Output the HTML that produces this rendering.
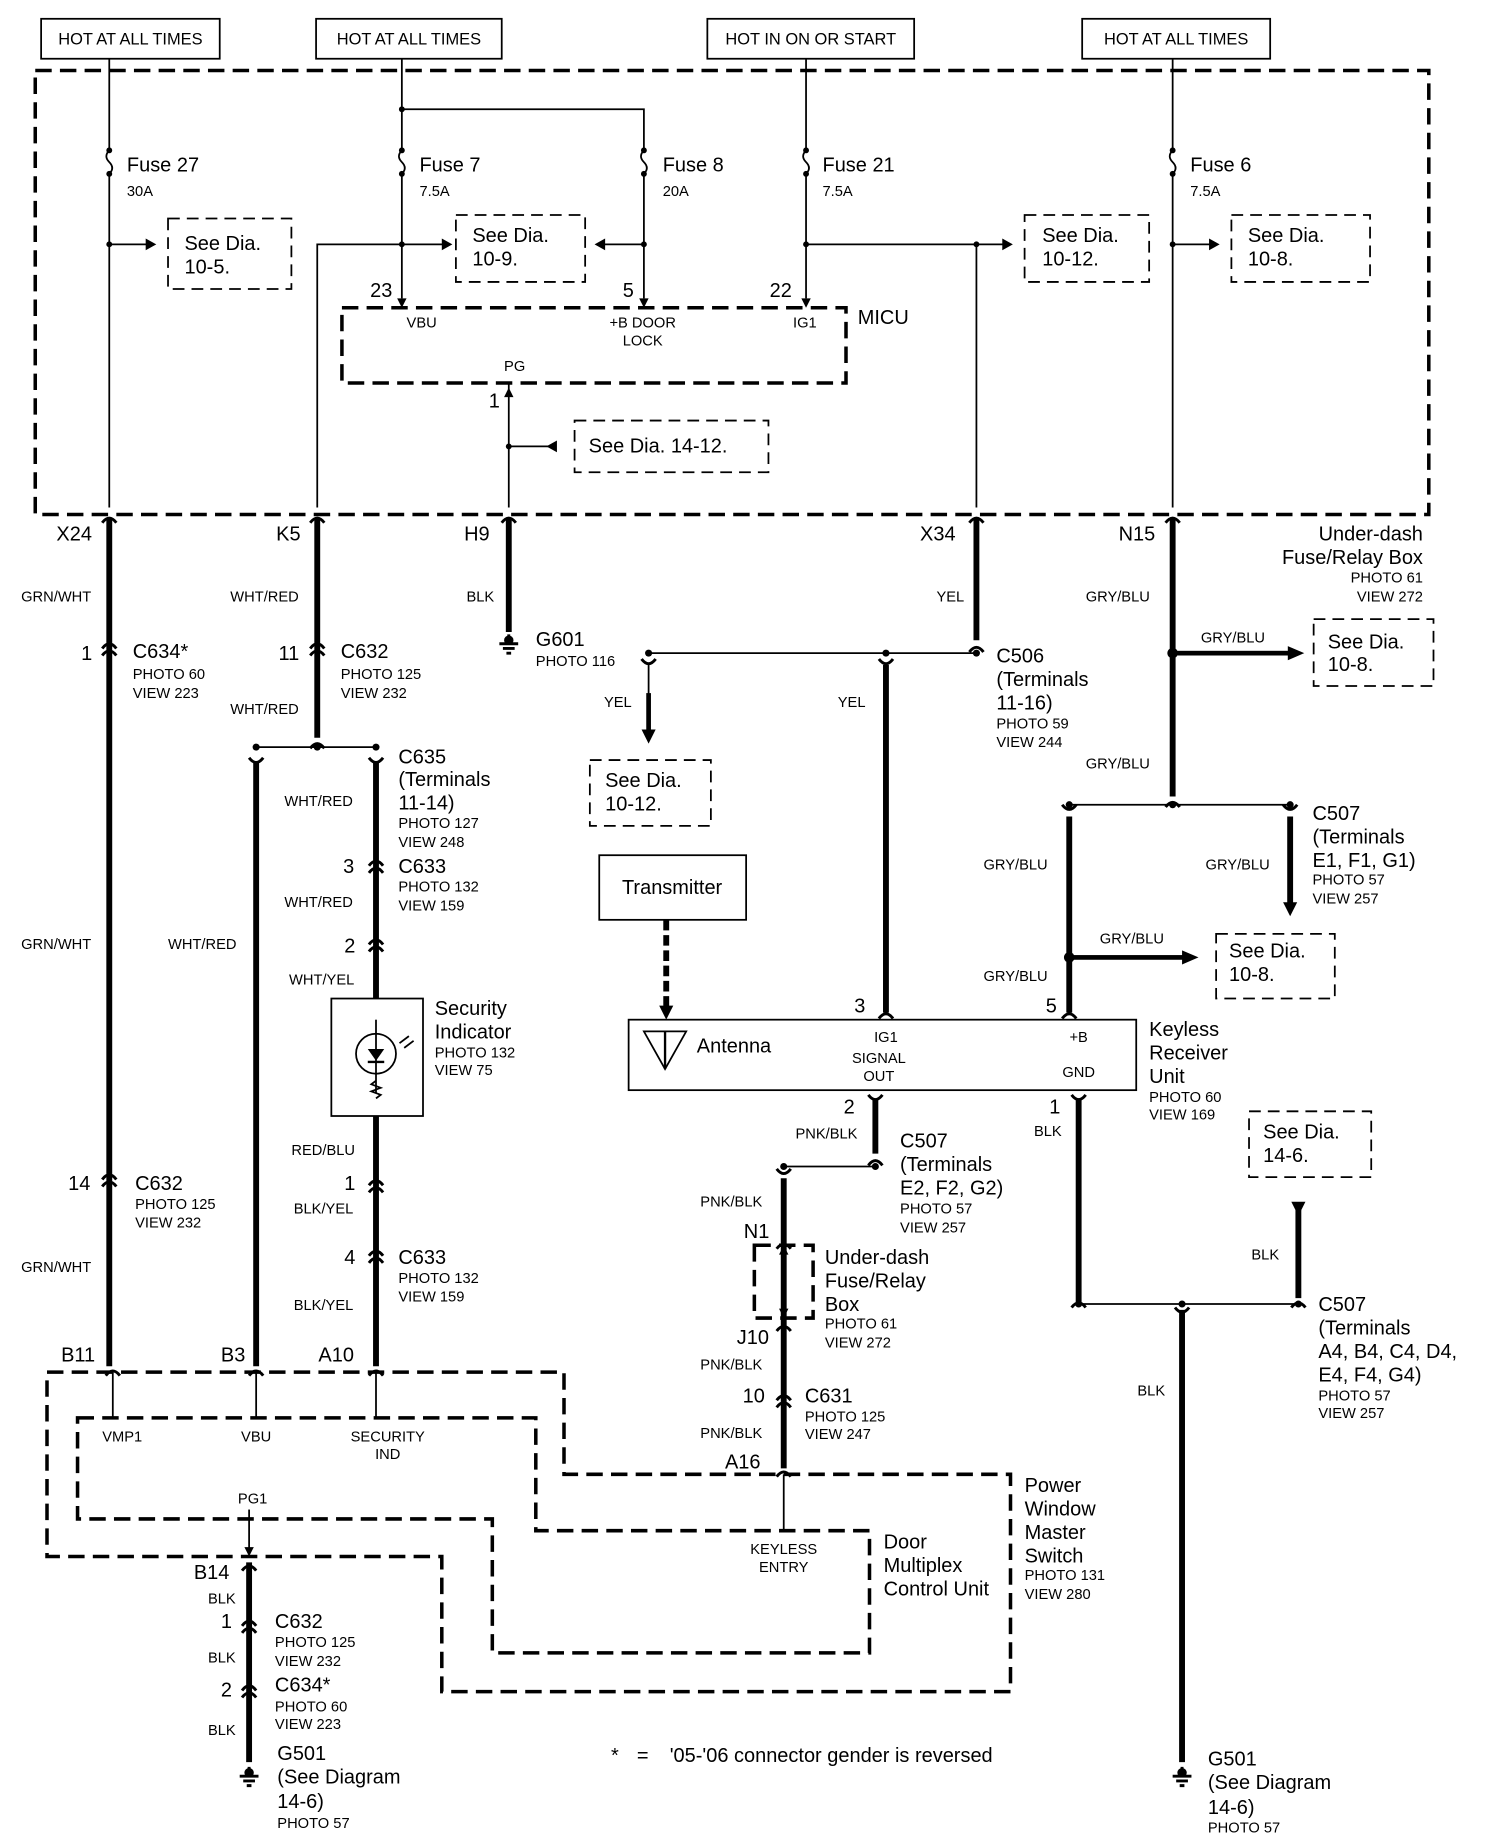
<!DOCTYPE html>
<html><head><meta charset="utf-8"><style>
html,body{margin:0;padding:0;background:#fff}
svg{display:block}
text{font-family:"Liberation Sans",Arial,sans-serif;fill:#000}
.L{font-size:17px}.S{font-size:12.5px}.M{font-size:14px}
.thin{stroke:#000;stroke-width:1.5;fill:none}
.thk{stroke:#000;stroke-width:5;fill:none}
.dash{stroke:#000;stroke-width:3;fill:none;stroke-dasharray:14 7}
.dbox{stroke:#000;stroke-width:1.5;fill:none;stroke-dasharray:10 6}
</style></head><body>
<svg width="1504" height="1842" viewBox="0 0 1280 1568" preserveAspectRatio="none" xmlns="http://www.w3.org/2000/svg">
<defs>
<g id="c"><path d="M-6,5 Q0,-3 6,5 M-6,-1 Q0,-9 6,-1" stroke="#000" stroke-width="2.5" fill="none"/></g>
<g id="cd"><path d="M-6,-5 Q0,3 6,-5" stroke="#000" stroke-width="2.5" fill="none"/></g>
<g id="cu"><path d="M-6,5 Q0,-3 6,5" stroke="#000" stroke-width="2.5" fill="none"/></g>
<g id="gnd"><path d="M0,-8 V0 M-8,0 H8 M-5,4 H5 M-2,8 H2" stroke="#000" stroke-width="2.5"/><circle cx="0" cy="-3" r="4"/></g>
<g id="fuse"><circle cx="0" cy="0" r="2.5"/><path d="M0,0 q-5,5 0,10 q5,5 0,10" stroke="#000" stroke-width="1.5" fill="none"/><circle cx="0" cy="20" r="2.5"/></g>
</defs>

<g class="thin" stroke-width="2">
<rect x="35" y="16" width="152" height="34"/><rect x="269" y="16" width="158" height="34"/>
<rect x="602" y="16" width="176" height="34"/><rect x="921" y="16" width="160" height="34"/>
</g>
<text x="111" y="38" class="M" text-anchor="middle">HOT AT ALL TIMES</text>
<text x="348" y="38" class="M" text-anchor="middle">HOT AT ALL TIMES</text>
<text x="690" y="38" class="M" text-anchor="middle">HOT IN ON OR START</text>
<text x="1001" y="38" class="M" text-anchor="middle">HOT AT ALL TIMES</text>

<rect x="30" y="60" width="1186" height="378" class="dash"/>

<g class="thin">
<path d="M93,50 V128 M93,148 V432"/>
<path d="M342,50 V128 M342,148 V254 M342,93 H548 V128 M548,148 V254"/>
<path d="M686,50 V128 M686,148 V254"/>
<path d="M998,50 V128 M998,148 V432"/>
<path d="M93,208 H128"/><path d="M342,208 H270 V432"/><path d="M342,208 H380"/><path d="M548,208 H512"/>
<path d="M686,208 H855"/><path d="M831,208 V432"/><path d="M998,208 H1033"/>
<path d="M433,326 V432"/><path d="M433,380 H470"/>
</g>
<use href="#fuse" x="93" y="128"/><use href="#fuse" x="342" y="128"/><use href="#fuse" x="548" y="128"/><use href="#fuse" x="686" y="128"/><use href="#fuse" x="998" y="128"/>
<g fill="#000">
<circle cx="93" cy="208" r="2.5"/><circle cx="342" cy="208" r="2.5"/><circle cx="342" cy="93" r="2.5"/><circle cx="548" cy="208" r="2.5"/><circle cx="686" cy="208" r="2.5"/><circle cx="831" cy="208" r="2.5"/><circle cx="998" cy="208" r="2.5"/><circle cx="433" cy="380" r="2.5"/>
<path d="M133,208 l-9,-5 v10z"/><path d="M385,208 l-9,-5 v10z"/><path d="M506,208 l9,-5 v10z"/><path d="M862,208 l-9,-5 v10z"/><path d="M1038,208 l-9,-5 v10z"/><path d="M465,380 l9,-5 v10z"/>
<path d="M342,262 l-4,-8 h8z"/><path d="M548,262 l-4,-8 h8z"/><path d="M686,262 l-4,-8 h8z"/><path d="M433,330 l-4,8 h8z"/>
</g>
<text x="108" y="146" class="L">Fuse 27</text><text x="108" y="167" class="S">30A</text>
<text x="357" y="146" class="L">Fuse 7</text><text x="357" y="167" class="S">7.5A</text>
<text x="564" y="146" class="L">Fuse 8</text><text x="564" y="167" class="S">20A</text>
<text x="700" y="146" class="L">Fuse 21</text><text x="700" y="167" class="S">7.5A</text>
<text x="1013" y="146" class="L">Fuse 6</text><text x="1013" y="167" class="S">7.5A</text>
<rect x="143" y="186" width="105" height="60" class="dbox"/><text x="157" y="213" class="L">See Dia.</text><text x="157" y="233" class="L">10-5.</text>
<rect x="388" y="183" width="110" height="57" class="dbox"/><text x="402" y="206" class="L">See Dia.</text><text x="402" y="226" class="L">10-9.</text>
<rect x="872" y="183" width="106" height="57" class="dbox"/><text x="887" y="206" class="L">See Dia.</text><text x="887" y="226" class="L">10-12.</text>
<rect x="1048" y="183" width="118" height="57" class="dbox"/><text x="1062" y="206" class="L">See Dia.</text><text x="1062" y="226" class="L">10-8.</text>
<rect x="291" y="262" width="429" height="64" class="dash"/>
<text x="315" y="253" class="L">23</text><text x="530" y="253" class="L">5</text><text x="655" y="253" class="L">22</text>
<text x="346" y="279" class="S">VBU</text><text x="547" y="279" class="S" text-anchor="middle">+B DOOR</text><text x="547" y="294" class="S" text-anchor="middle">LOCK</text><text x="685" y="279" class="S" text-anchor="middle">IG1</text>
<text x="730" y="276" class="L">MICU</text><text x="438" y="316" class="S" text-anchor="middle">PG</text><text x="416" y="347" class="L">1</text>
<rect x="489" y="358" width="165" height="44" class="dbox"/><text x="501" y="385" class="L">See Dia. 14-12.</text>

<g class="thk">
<path d="M93,442 V1163"/><path d="M270,442 V628"/><path d="M433,442 V538"/><path d="M831,442 V545"/><path d="M998,442 V678"/>
<path d="M218,648 V1163"/><path d="M320,648 V850"/><path d="M320,950 V1163"/>
<path d="M754,566 V862"/><path d="M910,695 V862"/><path d="M1098,695 V770"/>
<path d="M745,935 V982"/><path d="M667,1003 V1250"/><path d="M918,935 V1110"/><path d="M1105,1030 V1105"/><path d="M1006,1115 V1500"/><path d="M212,1330 V1500"/>
</g>
<g>
<use href="#cu" x="93" y="440"/><use href="#cu" x="270" y="440"/><use href="#cu" x="433" y="440"/><use href="#cu" x="831" y="440"/><use href="#cu" x="998" y="440"/>
<use href="#c" x="93" y="553"/><use href="#c" x="270" y="553"/><use href="#cu" x="270" y="632"/><use href="#cd" x="218" y="650"/><use href="#cd" x="320" y="650"/>
<use href="#c" x="320" y="738"/><use href="#c" x="320" y="805"/><use href="#c" x="93" y="1005"/><use href="#c" x="320" y="1010"/><use href="#c" x="320" y="1070"/>
<use href="#cu" x="96" y="1166"/><use href="#cu" x="218" y="1166"/><use href="#cu" x="320" y="1166"/>
<use href="#cu" x="831" y="550"/><use href="#cd" x="552" y="566"/><use href="#cd" x="754" y="566"/>
<use href="#cu" x="998" y="682"/><use href="#cd" x="910" y="690"/><use href="#cd" x="1098" y="690"/>
<use href="#cu" x="754" y="862"/><use href="#cu" x="910" y="862"/><use href="#cd" x="745" y="937"/><use href="#cd" x="918" y="937"/>
<use href="#cu" x="745" y="987"/><use href="#cd" x="667" y="1000"/><use href="#cu" x="667" y="1058"/><use href="#cu" x="667" y="1128"/><use href="#c" x="667" y="1193"/><use href="#cu" x="667" y="1252"/>
<use href="#cu" x="918" y="1108"/><use href="#cu" x="1105" y="1108"/><use href="#cd" x="1006" y="1118"/>
<use href="#cu" x="212" y="1332"/><use href="#c" x="212" y="1385"/><use href="#c" x="212" y="1440"/>
</g>
<use href="#gnd" x="433" y="548"/><use href="#gnd" x="212" y="1512"/><use href="#gnd" x="1006" y="1512"/>
<g class="thin">
<path d="M218,636 H320"/><path d="M552,556 H831"/><path d="M552,566 V625"/><path d="M910,685 H1098"/><path d="M998,556 H1100"/>
<path d="M910,815 H1010"/><path d="M667,993 H745"/><path d="M918,1110 H1105"/>
<path d="M96,1168 V1207 M218,1168 V1207 M320,1168 V1207"/><path d="M212,1285 V1320"/><path d="M667,1255 V1303"/>
<path d="M667,1066 V1118"/>
</g>
<g fill="#000">
<circle cx="218" cy="636" r="3"/><circle cx="270" cy="636" r="3"/><circle cx="320" cy="636" r="3"/>
<circle cx="552" cy="556" r="3"/><circle cx="754" cy="556" r="3"/><circle cx="831" cy="556" r="3"/>
<circle cx="998" cy="556" r="4.5"/><circle cx="910" cy="685" r="3"/><circle cx="998" cy="685" r="3"/><circle cx="1098" cy="685" r="3"/><circle cx="910" cy="815" r="4.5"/>
<circle cx="667" cy="993" r="3"/><circle cx="745" cy="993" r="3"/><circle cx="918" cy="1110" r="3"/><circle cx="1006" cy="1110" r="3"/><circle cx="1105" cy="1110" r="3"/>
<path d="M1110,556 l-14,-6 v12z" /><rect x="998" y="554" width="100" height="4"/>
<rect x="910" y="813" width="100" height="4"/><path d="M1020,815 l-14,-6 v12z"/>
<path d="M552,633 l-6,-12 h12z"/><rect x="550" y="590" width="4" height="35"/>
<path d="M1098,780 l-6,-12 h12z"/>
<path d="M1099,1023 h12 l-6,12z"/>
<path d="M212,1325 l-4,-8 h8z"/><path d="M667,1060 l-4,8 h8z"/><path d="M667,1122 l-4,-8 h8z"/>
<path d="M567,868 l-6,-12 h12z"/>
</g>
<path d="M567,783 V858" stroke="#000" stroke-width="5" stroke-dasharray="9 4"/>
<rect x="642" y="1060" width="50" height="62" class="dash" stroke-width="3"/>

<text x="48" y="460" class="L">X24</text><text x="235" y="460" class="L">K5</text><text x="395" y="460" class="L">H9</text><text x="783" y="460" class="L">X34</text><text x="952" y="460" class="L">N15</text>
<text x="1211" y="460" class="L" text-anchor="end">Under-dash</text><text x="1211" y="480" class="L" text-anchor="end">Fuse/Relay Box</text>
<text x="1211" y="496" class="S" text-anchor="end">PHOTO 61</text><text x="1211" y="512" class="S" text-anchor="end">VIEW 272</text>
<g class="S">
<text x="18" y="512">GRN/WHT</text><text x="196" y="512">WHT/RED</text><text x="397" y="512">BLK</text><text x="797" y="512">YEL</text><text x="924" y="512">GRY/BLU</text>
<text x="113" y="578">PHOTO 60</text><text x="113" y="594">VIEW 223</text><text x="290" y="578">PHOTO 125</text><text x="290" y="594">VIEW 232</text>
<text x="196" y="608">WHT/RED</text><text x="456" y="567">PHOTO 116</text>
<text x="514" y="602">YEL</text><text x="713" y="602">YEL</text>
<text x="848" y="620">PHOTO 59</text><text x="848" y="636">VIEW 244</text>
<text x="1022" y="547">GRY/BLU</text><text x="924" y="654">GRY/BLU</text>
<text x="242" y="686">WHT/RED</text><text x="339" y="705">PHOTO 127</text><text x="339" y="721">VIEW 248</text>
<text x="837" y="740">GRY/BLU</text><text x="1026" y="740">GRY/BLU</text><text x="1117" y="753">PHOTO 57</text><text x="1117" y="769">VIEW 257</text>
<text x="339" y="759">PHOTO 132</text><text x="339" y="775">VIEW 159</text><text x="242" y="772">WHT/RED</text>
<text x="18" y="808">GRN/WHT</text><text x="143" y="808">WHT/RED</text><text x="936" y="803">GRY/BLU</text>
<text x="246" y="838">WHT/YEL</text><text x="837" y="835">GRY/BLU</text>
<text x="370" y="900">PHOTO 132</text><text x="370" y="915">VIEW 75</text>
<text x="978" y="938">PHOTO 60</text><text x="978" y="953">VIEW 169</text>
<text x="880" y="967">BLK</text><text x="677" y="969">PNK/BLK</text><text x="248" y="983">RED/BLU</text>
<text x="766" y="1033">PHOTO 57</text><text x="766" y="1049">VIEW 257</text><text x="596" y="1027">PNK/BLK</text>
<text x="115" y="1029">PHOTO 125</text><text x="115" y="1045">VIEW 232</text><text x="250" y="1033">BLK/YEL</text>
<text x="1065" y="1072">BLK</text><text x="339" y="1092">PHOTO 132</text><text x="339" y="1108">VIEW 159</text><text x="250" y="1115">BLK/YEL</text>
<text x="18" y="1083">GRN/WHT</text><text x="702" y="1131">PHOTO 61</text><text x="702" y="1147">VIEW 272</text>
<text x="596" y="1166">PNK/BLK</text><text x="968" y="1188">BLK</text><text x="1122" y="1192">PHOTO 57</text><text x="1122" y="1207">VIEW 257</text>
<text x="685" y="1210">PHOTO 125</text><text x="685" y="1225">VIEW 247</text><text x="596" y="1224">PNK/BLK</text>
<text x="104" y="1227" text-anchor="middle">VMP1</text><text x="218" y="1227" text-anchor="middle">VBU</text><text x="330" y="1227" text-anchor="middle">SECURITY</text><text x="330" y="1242" text-anchor="middle">IND</text>
<text x="215" y="1280" text-anchor="middle">PG1</text><text x="667" y="1323" text-anchor="middle">KEYLESS</text><text x="667" y="1338" text-anchor="middle">ENTRY</text>
<text x="872" y="1345">PHOTO 131</text><text x="872" y="1361">VIEW 280</text>
<text x="177" y="1365">BLK</text><text x="234" y="1402">PHOTO 125</text><text x="234" y="1418">VIEW 232</text><text x="177" y="1415">BLK</text>
<text x="234" y="1457">PHOTO 60</text><text x="234" y="1472">VIEW 223</text><text x="177" y="1477">BLK</text>
<text x="236" y="1556">PHOTO 57</text><text x="1028" y="1560">PHOTO 57</text>
<text x="754" y="887" text-anchor="middle">IG1</text><text x="748" y="905" text-anchor="middle">SIGNAL</text><text x="748" y="920" text-anchor="middle">OUT</text>
<text x="918" y="887" text-anchor="middle">+B</text><text x="918" y="917" text-anchor="middle">GND</text>
</g>
<g class="L">
<text x="69" y="562">1</text><text x="113" y="560">C634*</text><text x="237" y="562">11</text><text x="290" y="560">C632</text>
<text x="456" y="550">G601</text>
<text x="848" y="564">C506</text><text x="848" y="584">(Terminals</text><text x="848" y="604">11-16)</text>
<text x="339" y="650">C635</text><text x="339" y="669">(Terminals</text><text x="339" y="689">11-14)</text>
<text x="1117" y="698">C507</text><text x="1117" y="718">(Terminals</text><text x="1117" y="738">E1, F1, G1)</text>
<text x="292" y="743">3</text><text x="339" y="743">C633</text><text x="293" y="811">2</text>
<text x="370" y="864">Security</text><text x="370" y="884">Indicator</text>
<text x="727" y="862">3</text><text x="890" y="862">5</text>
<text x="978" y="882">Keyless</text><text x="978" y="902">Receiver</text><text x="978" y="922">Unit</text>
<text x="718" y="948">2</text><text x="893" y="948">1</text>
<text x="766" y="977">C507</text><text x="766" y="997">(Terminals</text><text x="766" y="1017">E2, F2, G2)</text>
<text x="58" y="1013">14</text><text x="115" y="1013">C632</text><text x="293" y="1013">1</text>
<text x="633" y="1054">N1</text><text x="702" y="1076">Under-dash</text><text x="702" y="1096">Fuse/Relay</text><text x="702" y="1116">Box</text>
<text x="293" y="1076">4</text><text x="339" y="1076">C633</text>
<text x="1122" y="1116">C507</text><text x="1122" y="1136">(Terminals</text><text x="1122" y="1156">A4, B4, C4, D4,</text><text x="1122" y="1176">E4, F4, G4)</text>
<text x="627" y="1144">J10</text><text x="52" y="1159">B11</text><text x="188" y="1159">B3</text><text x="271" y="1159">A10</text>
<text x="632" y="1194">10</text><text x="685" y="1194">C631</text><text x="617" y="1250">A16</text>
<text x="872" y="1270">Power</text><text x="872" y="1290">Window</text><text x="872" y="1310">Master</text><text x="872" y="1330">Switch</text>
<text x="752" y="1318">Door</text><text x="752" y="1338">Multiplex</text><text x="752" y="1358">Control Unit</text>
<text x="165" y="1344">B14</text><text x="188" y="1386">1</text><text x="234" y="1386">C632</text><text x="188" y="1444">2</text><text x="234" y="1440">C634*</text>
<text x="236" y="1498">G501</text><text x="236" y="1518">(See Diagram</text><text x="236" y="1539">14-6)</text>
<text x="1028" y="1503">G501</text><text x="1028" y="1523">(See Diagram</text><text x="1028" y="1544">14-6)</text>
<text x="520" y="1500">*</text><text x="542" y="1500">=</text><text x="570" y="1500">'05-'06 connector gender is reversed</text>
</g>
<rect x="502" y="647" width="103" height="56" class="dbox"/><text x="515" y="670" class="L">See Dia.</text><text x="515" y="690" class="L">10-12.</text>
<rect x="1118" y="527" width="102" height="57" class="dbox"/><text x="1130" y="552" class="L">See Dia.</text><text x="1130" y="571" class="L">10-8.</text>
<rect x="1035" y="795" width="101" height="55" class="dbox"/><text x="1046" y="815" class="L">See Dia.</text><text x="1046" y="835" class="L">10-8.</text>
<rect x="1063" y="946" width="104" height="56" class="dbox"/><text x="1075" y="969" class="L">See Dia.</text><text x="1075" y="989" class="L">14-6.</text>

<rect x="282" y="850" width="78" height="100" class="thin" stroke-width="2"/>
<circle cx="320" cy="897" r="17" class="thin" stroke-width="2"/>
<path d="M320,868 V930" class="thin"/><path d="M313,893 h14 l-7,10z" fill="#000"/><path d="M313,904 h14" stroke="#000" stroke-width="2"/>
<path d="M340,888 l8,-6 M344,892 l8,-6" stroke="#000" stroke-width="1.5"/>
<path d="M320,920 l-4,3 l8,3 l-8,3 l8,3 l-4,3" class="thin"/>

<rect x="510" y="728" width="125" height="55" class="thin" stroke-width="2.5"/><text x="572" y="761" class="L" text-anchor="middle">Transmitter</text>
<rect x="535" y="868" width="432" height="60" class="thin" stroke-width="3"/>
<path d="M548,878 h36 l-18,32z" class="thin" stroke-width="3"/><path d="M566,878 V910" stroke="#000" stroke-width="2"/>
<text x="593" y="896" class="L">Antenna</text>

<path d="M40,1168 H480 V1255 H860 V1440 H376 V1325 H40 Z" class="dash"/>
<path d="M66,1207 H456 V1303 H740 V1407 H419 V1293 H66 Z" class="dash"/>
</svg>
</body></html>
